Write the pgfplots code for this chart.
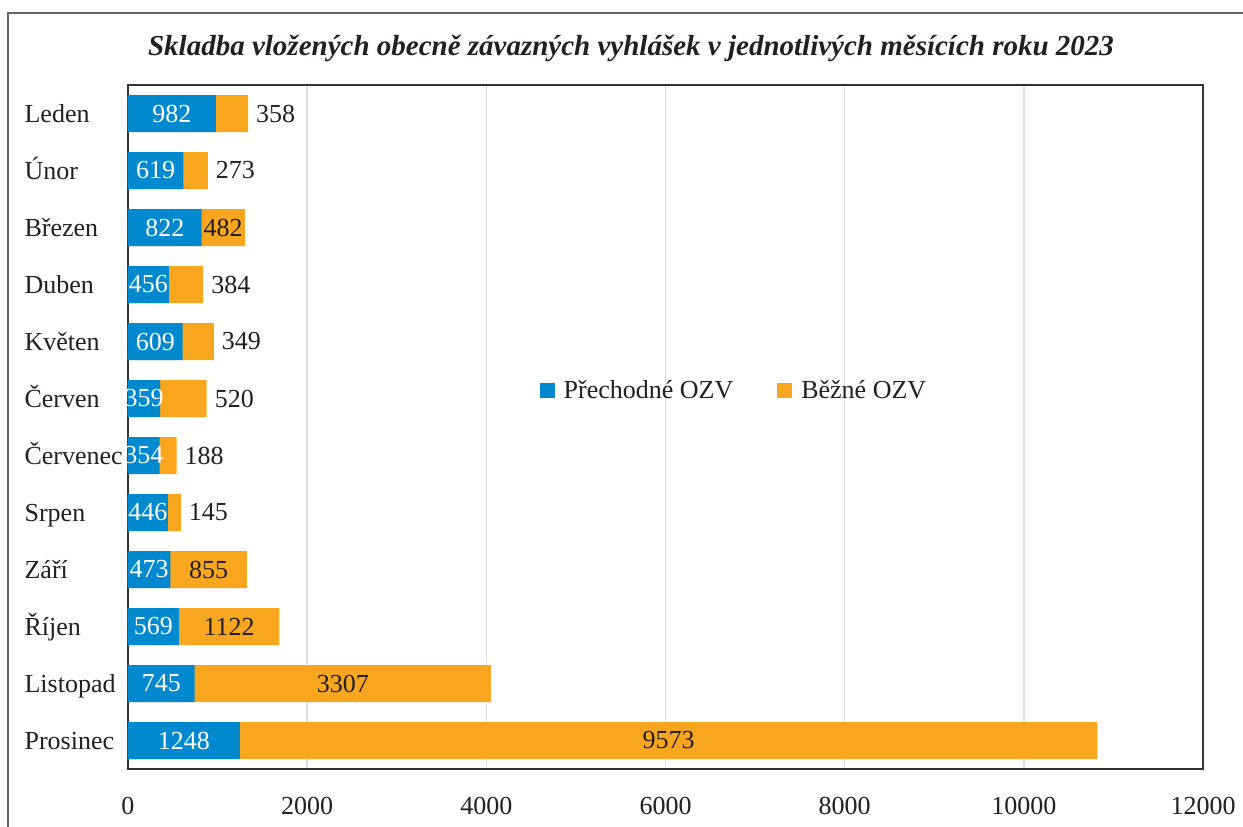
\documentclass[border=0pt]{standalone}
\usepackage{fontspec}
\setmainfont{Liberation Serif}
\usepackage{pgfplots}
\usepackage{pgfplotstable}
\pgfplotsset{compat=1.18}
\definecolor{cblue}{RGB}{0,137,207}
\definecolor{corange}{RGB}{247,166,30}
\definecolor{ctext}{RGB}{35,31,32}
\pgfplotstableread{
y a b o
1 982 358 1
2 619 273 1
3 822 482 0
4 456 384 1
5 609 349 1
6 359 520 1
7 354 188 1
8 446 145 1
9 473 855 0
10 569 1122 0
11 745 3307 0
12 1248 9573 0
}\data
\begin{document}
\begin{tikzpicture}
\useasboundingbox (-64bp,-29bp) rectangle (557.5bp,384.5bp);
\draw[black!60, line width=1bp] (-60bp,-30bp) -- (-60bp,378bp) -- (558bp,378bp);
\node[font=\fontsize{14.5bp}{17bp}\selectfont\bfseries\itshape, text=ctext] at (251.5bp,360.5bp) {Skladba vložených obecně závazných vyhlášek v jednotlivých měsících roku 2023};
\begin{axis}[at={(0,0)}, anchor=south west, scale only axis,
  width=537.5bp, height=342bp,
  xmin=0, xmax=12000, ymin=0.5, ymax=12.5, y dir=reverse,
  ytick={1,...,12},
  yticklabels={Leden,Únor,Březen,Duben,Květen,Červen,Červenec,Srpen,Září,Říjen,Listopad,Prosinec},
  xtick={0,2000,...,12000},
  scaled x ticks=false,
  /pgf/number format/assume math mode=true,
  /pgf/number format/set thousands separator={},
  xmajorgrids, grid style={draw=black!13, line width=0.7bp},
  major tick length=0pt,
  axis line style={draw=black!80, line width=0.8bp},
  tick label style={font=\fontsize{13bp}{15bp}\selectfont, text=ctext},
  yticklabel style={anchor=east, text width=50bp, align=left, inner sep=0pt, xshift=-1.5bp,
    text height=9bp, text depth=3bp, yshift=-1.6bp},
  xticklabel style={yshift=-10.5bp},
  legend style={at={(0.377,0.553)}, anchor=west, draw=none, fill=none,
    font=\fontsize{13bp}{15bp}\selectfont, text=ctext,
    /tikz/every even column/.append style={column sep=20bp}},
  legend columns=2,
  legend image code/.code={\fill (0bp,-3.75bp) rectangle (7.5bp,3.75bp); \path (0bp,0bp) -- (10bp,0bp);},
  nodes near coords style={anchor=center, font=\fontsize{13bp}{15bp}\selectfont},
]
\addlegendimage{fill=cblue, draw=none}
\addlegendentry{Přechodné OZV}
\addlegendimage{fill=corange, draw=none}
\addlegendentry{Běžné OZV}
\addplot[xbar, bar width=18.5bp, bar shift=0pt, fill=corange, draw=none]
  table[x expr=\thisrow{a}+\thisrow{b}, y=y] {\data};
\addplot[xbar, bar width=18.5bp, bar shift=0pt, fill=cblue, draw=none]
  table[x=a, y=y] {\data};
\addplot[draw=none, mark=none, nodes near coords, point meta=explicit symbolic,
  nodes near coords style={text=white}]
  table[x expr=\thisrow{a}/2, y=y, meta=a] {\data};
\addplot[draw=none, mark=none, nodes near coords, point meta=explicit symbolic,
  restrict x to domain=0:20000, nodes near coords style={text=ctext}]
  table[x expr={ifthenelse(\thisrow{o}==0, \thisrow{a}+\thisrow{b}/2, -1000)}, y=y, meta=b] {\data};
\addplot[draw=none, mark=none, nodes near coords, point meta=explicit symbolic,
  restrict x to domain=0:20000, nodes near coords style={text=ctext, anchor=west, xshift=0.5bp}]
  table[x expr={ifthenelse(\thisrow{o}==1, \thisrow{a}+\thisrow{b}, -1000)}, y=y, meta=b] {\data};
\end{axis}
\end{tikzpicture}
\end{document}
